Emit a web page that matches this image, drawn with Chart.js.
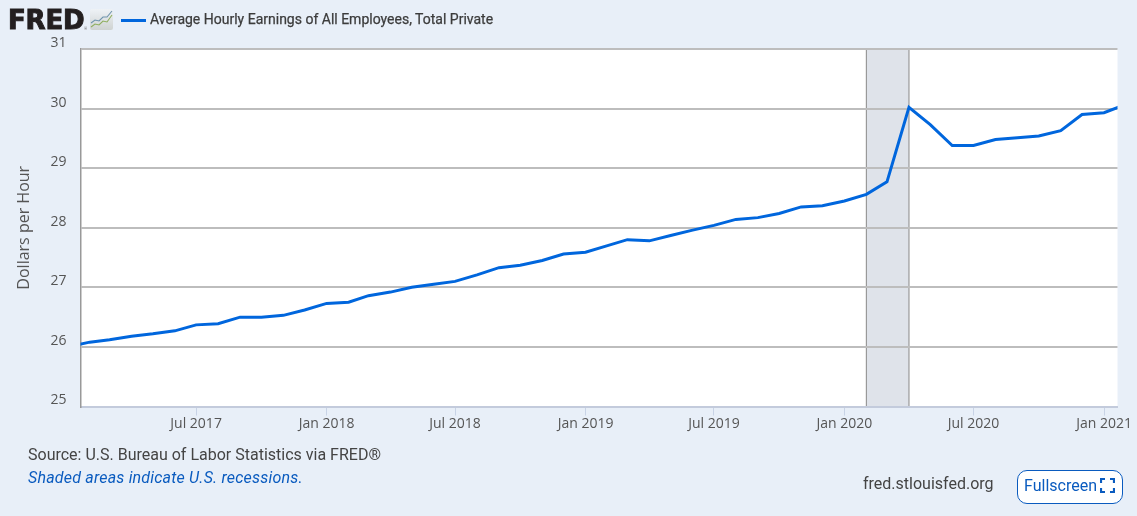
<!DOCTYPE html>
<html>
<head>
<meta charset="utf-8">
<script src="https://cdn.jsdelivr.net/npm/chart.js@4"></script>
<style>
html,body{margin:0;padding:0;background:#e8eff8;width:1137px;height:516px;overflow:hidden}
#wrap{position:relative;width:1137px;height:516px;font-family:Roboto,sans-serif;color:#444}
canvas{position:absolute;left:0;top:0}
.t{position:absolute;white-space:nowrap}
#logo{left:8px;top:5px;font:bold 26px/30px "DejaVu Sans",sans-serif;color:#231f20;letter-spacing:-.2px;-webkit-text-stroke:1px #231f20}
#reg{left:84px;top:26px;font:4px/5px Roboto;color:#777}
#icon{position:absolute;left:90px;top:9px}
#swatch{position:absolute;left:121px;top:19px;width:25px;height:3px;background:#0066dd}
#legend{left:150px;top:10px;font:14px/18px Roboto;color:#3c3c3c;-webkit-text-stroke:.25px #3c3c3c}
#src{left:28px;top:446px;font:16px/18px Roboto}
#note{left:28px;top:469px;font:italic 16px/18px Roboto;color:#0a5bbf;letter-spacing:.2px}
#site{left:863px;top:475px;font:16px/18px Roboto}
#btn{position:absolute;left:1017px;top:470px;width:104px;height:32px;border:1px solid #0a5bbf;border-radius:10px;background:#fff}
#btnt{left:6px;top:6px;font:16px/18px Roboto;color:#0a5bbf}
#btn svg{position:absolute;left:82px;top:7px}
</style>
</head>
<body>
<div id="wrap">
  <canvas id="c" width="1137" height="516"></canvas>
  <div class="t" id="logo">FRED</div><div class="t" id="reg">®</div>
  <svg id="icon" width="23" height="21" viewBox="0 0 23 21">
    <defs><linearGradient id="g" x1="0" y1="0" x2="0" y2="1"><stop offset="0" stop-color="#eef2f6"/><stop offset="1" stop-color="#cfd3d2"/></linearGradient></defs>
    <rect x="0" y="0" width="23" height="21" rx="2" fill="url(#g)"/>
    <polyline points="1,14 5,11 9,12 13,8 17,8 22,2" fill="none" stroke="#6f94ad" stroke-width="1.1"/>
    <polyline points="1,18 5,15 9,16 13,12 17,13 22,6" fill="none" stroke="#8fae5e" stroke-width="1.1"/>
  </svg>
  <div id="swatch"></div>
  <div class="t" id="legend"></div>
  <div class="t" id="src">Source: U.S. Bureau of Labor Statistics via FRED®</div>
  <div class="t" id="note">Shaded areas indicate U.S. recessions.</div>
  <div class="t" id="site">fred.stlouisfed.org</div>
  <div id="btn"><div class="t" id="btnt">Fullscreen</div>
    <svg width="15" height="15" viewBox="0 0 15 15" fill="none" stroke="#0a5bbf" stroke-width="2.2"><path d="M1 5V1H5M10 1H14V5M14 10V14H10M5 14H1V10"/></svg>
  </div>
</div>
<script>
const seriesName = "Average Hourly Earnings of All Employees, Total Private";
const yAxisTitle = "Dollars per Hour";
const months = [
 "2017-01","2017-02","2017-03","2017-04","2017-05","2017-06","2017-07","2017-08","2017-09","2017-10","2017-11","2017-12",
 "2018-01","2018-02","2018-03","2018-04","2018-05","2018-06","2018-07","2018-08","2018-09","2018-10","2018-11","2018-12",
 "2019-01","2019-02","2019-03","2019-04","2019-05","2019-06","2019-07","2019-08","2019-09","2019-10","2019-11","2019-12",
 "2020-01","2020-02","2020-03","2020-04","2020-05","2020-06","2020-07","2020-08","2020-09","2020-10","2020-11","2020-12",
 "2021-01","2021-02"];
const earnings = [
 26.00,26.08,26.12,26.18,26.22,26.27,26.37,26.39,26.50,26.50,26.53,26.62,
 26.73,26.75,26.86,26.92,27.00,27.05,27.10,27.21,27.33,27.37,27.45,27.56,
 27.59,27.70,27.80,27.78,27.87,27.96,28.04,28.14,28.17,28.24,28.35,28.37,
 28.45,28.56,28.77,30.02,29.73,29.38,29.38,29.48,29.51,29.54,29.63,29.90,
 29.93,30.07];
const xTickDates = ["2017-07","2018-01","2018-07","2019-01","2019-07","2020-01","2020-07","2021-01"];
const xTickLabels = ["Jul 2017","Jan 2018","Jul 2018","Jan 2019","Jul 2019","Jan 2020","Jul 2020","Jan 2021"];
const yTicks = [25,26,27,28,29,30,31];
const xRange = ["2017-01-19","2021-01-20"];
const recession = ["2020-02-01","2020-04-01"];

const ms = s => Date.parse(s.length === 7 ? s + "-01T00:00:00Z" : s + "T00:00:00Z");
document.getElementById("legend").textContent = seriesName;

const backdrop = {
  id: "backdrop",
  beforeDraw(chart) {
    const {ctx, chartArea: a, scales: {x}} = chart;
    ctx.save();
    ctx.fillStyle = "#fff";
    ctx.fillRect(a.left, a.top, a.right - a.left, a.bottom - a.top);
    const x0 = x.getPixelForValue(ms(recession[0])), x1 = x.getPixelForValue(ms(recession[1]));
    ctx.fillStyle = "#dfe3ea";
    ctx.fillRect(x0, a.top, x1 - x0, a.bottom - a.top);
    ctx.strokeStyle = "#999";
    ctx.lineWidth = 1.2;
    ctx.beginPath();
    ctx.moveTo(x0, a.top); ctx.lineTo(x0, a.bottom);
    ctx.moveTo(x1, a.top); ctx.lineTo(x1, a.bottom);
    ctx.stroke();
    ctx.restore();
  }
};

new Chart(document.getElementById("c"), {
  type: "line",
  data: {
    datasets: [{
      label: seriesName,
      data: months.map((m, i) => ({x: ms(m), y: earnings[i]})),
      borderColor: "#0066dd",
      borderWidth: 3,
      pointRadius: 0,
      tension: 0,
      fill: false
    }]
  },
  options: {
    responsive: false,
    animation: false,
    layout: {padding: {left: 0, right: 19.5, top: 49, bottom: 0}},
    plugins: {legend: {display: false}, tooltip: {enabled: false}},
    scales: {
      x: {
        type: "linear",
        min: ms(xRange[0]),
        max: ms(xRange[1]),
        afterBuildTicks: s => { s.ticks = xTickDates.map(d => ({value: ms(d)})); },
        afterFit: s => { s.height = 109.5; },
        border: {display: true, color: "#c3cbdc", width: 2},
        grid: {drawOnChartArea: false, color: "#c8d3e6", tickLength: 9, lineWidth: 1},
        ticks: {
          maxRotation: 0, autoSkip: false, padding: 0,
          color: "#555", font: {family: "'Open Sans'", size: 14},
          callback: v => xTickLabels[xTickDates.findIndex(d => ms(d) === v)]
        }
      },
      y: {
        min: 25,
        max: 31,
        afterBuildTicks: s => { s.ticks = yTicks.map(v => ({value: v})); },
        afterFit: s => { s.width = 80.5; },
        border: {display: true, color: "#999", width: 1.5},
        grid: {
          drawTicks: false,
          lineWidth: 2,
          color: c => c.tick && c.tick.value === 25 ? "rgba(0,0,0,0)" : "#bdbdbd"
        },
        title: {
          display: true, text: yAxisTitle, color: "#555",
          font: {family: "'Open Sans'", size: 16, lineHeight: 1.2},
          padding: {top: 15, bottom: 0}
        },
        ticks: {
          padding: 14, color: "#555",
          font: {family: "'Open Sans'", size: 14, lineHeight: "12px"},
          callback: v => [String(v), ""]
        }
      }
    }
  },
  plugins: [backdrop]
});
</script>
</body>
</html>
